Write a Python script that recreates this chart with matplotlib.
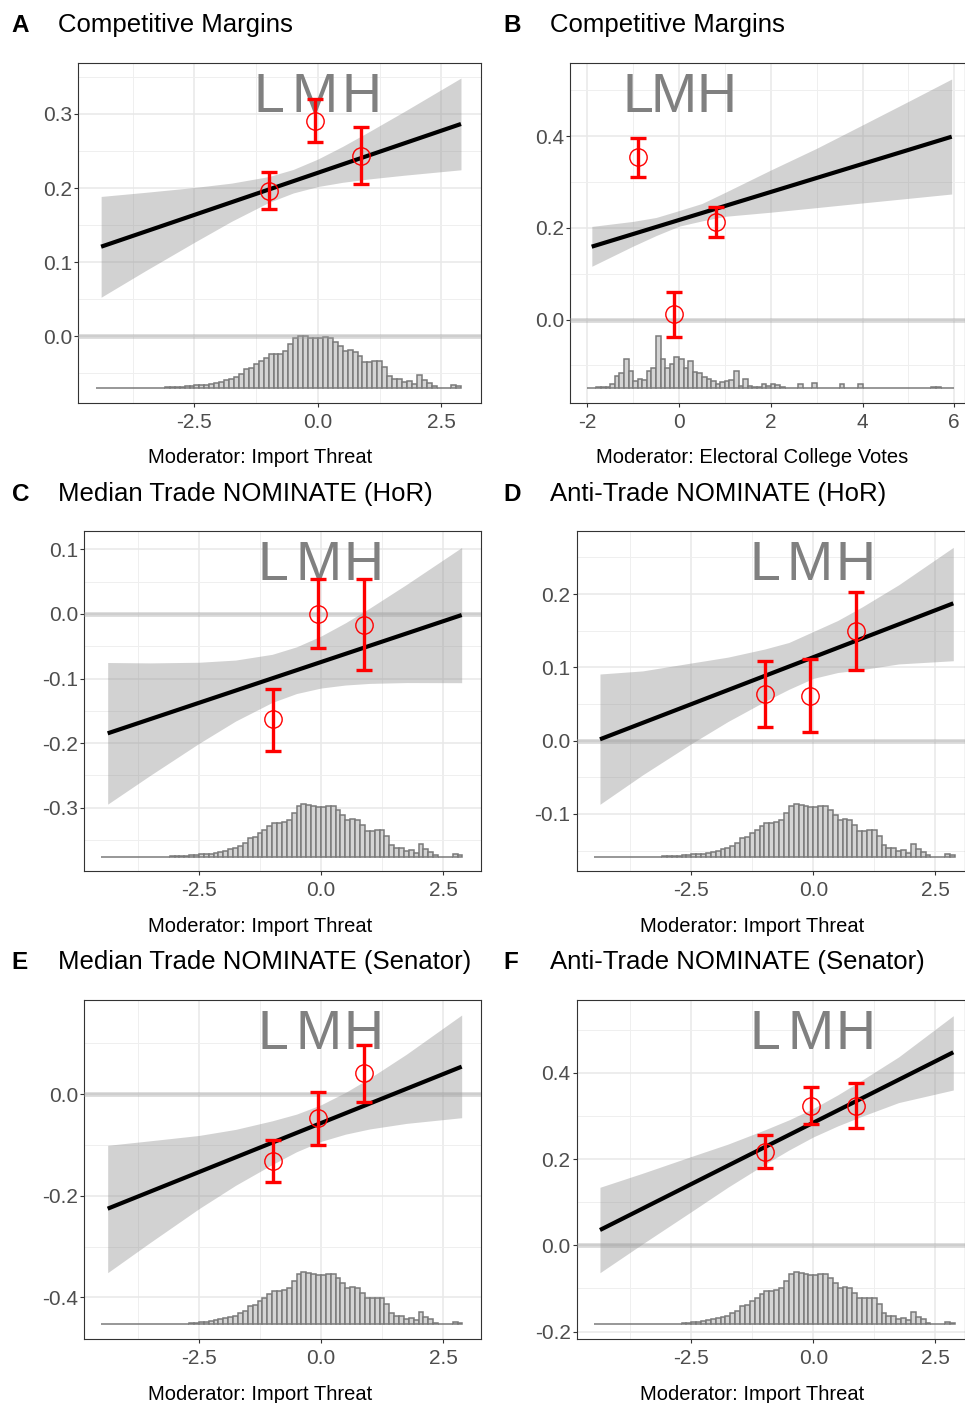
import numpy as np
import matplotlib
matplotlib.use("Agg")
import matplotlib.pyplot as plt
import matplotlib.transforms as mtransforms
from matplotlib.ticker import MultipleLocator, FormatStrFormatter

plt.rcParams['font.family'] = ['Liberation Sans', 'DejaVu Sans']
plt.rcParams['axes.unicode_minus'] = False

FIG_W, FIG_H = 965, 1403

# ---- moderator histograms (bar heights, arbitrary units)
IMPORT_BIN_START, ELECT_BIN_START, BIN_W = -4.5, -2.0, 0.1
import_hist = [0, 0, 0, 0, 0, 0, 0, 0, 0, 0, 0, 0, 0, 0,
               1, 1, 1, 2, 4, 5, 7, 8, 9, 12,
               15, 18, 22, 25, 33, 40, 55, 58, 70, 80,
               90, 100, 100, 102, 110, 130, 150, 156, 155, 150,
               148, 148, 152, 150, 138, 125, 110, 112, 108, 95,
               78, 78, 80, 80, 62, 35, 25, 25, 17, 20,
               12, 38, 22, 15, 5, 0, 0, 0, 8, 4]
elect_hist = [0, 0, 2, 3, 3, 12, 35, 45, 85, 50,
              20, 25, 22, 50, 60, 155, 85, 60, 70, 92,
              85, 60, 80, 48, 45, 32, 25, 20, 12, 18,
              20, 22, 50, 5, 25, 5, 2, 2, 12, 5,
              10, 8, 2, 0, 0, 0, 12, 0, 0, 15,
              0, 0, 0, 0, 0, 12, 0, 0, 0, 10,
              0, 0, 0, 0, 0, 0, 0, 0, 0, 0,
              0, 0, 0, 0, 0, 1, 1, 0, 0, 0]

# ---- panel A: Competitive Margins x Import Threat
A_pt_x = [-0.99, -0.06, 0.88]
A_pt_y = [0.196, 0.291, 0.243]
A_pt_lo = [0.172, 0.262, 0.205]
A_pt_hi = [0.221, 0.320, 0.283]
A_line_x = [-4.39, 2.895]
A_line_y = [0.1207, 0.2865]
A_rib_x = [-4.39, -3.5, -2.5, -1.75, -1.0, -0.5, 0.0, 0.5, 1.0, 1.75, 2.895]
A_rib_lo = [0.0524, 0.0879, 0.1267, 0.1550, 0.1804, 0.1933, 0.2020, 0.2077, 0.2120, 0.2173, 0.2246]
A_rib_hi = [0.1886, 0.1941, 0.2007, 0.2066, 0.2154, 0.2251, 0.2392, 0.2563, 0.2748, 0.3035, 0.3486]
A_hist_band = [-0.0699, 0.0004]

# ---- panel B: Competitive Margins x Electoral College Votes
B_pt_x = [-0.887, -0.109, 0.807]
B_pt_y = [0.354, 0.012, 0.213]
B_pt_lo = [0.3115, -0.0374, 0.1807]
B_pt_hi = [0.3965, 0.0607, 0.2446]
B_line_x = [-1.903, 5.944]
B_line_y = [0.1588, 0.3987]
B_rib_x = [-1.9, -1.0, -0.5, 0.0, 0.5, 1.0, 2.0, 3.0, 4.0, 5.0, 5.944]
B_rib_lo = [0.1161, 0.1601, 0.1830, 0.2035, 0.2150, 0.2250, 0.2340, 0.2440, 0.2542, 0.2642, 0.2737]
B_rib_hi = [0.2030, 0.2140, 0.2225, 0.2375, 0.2530, 0.2770, 0.3260, 0.3734, 0.4244, 0.4756, 0.5245]
B_hist_band = [-0.1487, -0.0353]

# ---- panel C: Median Trade NOMINATE (HoR)
C_pt_x = [-0.977, -0.055, 0.881]
C_pt_y = [-0.1633, 0.0, -0.0171]
C_pt_lo = [-0.2124, -0.0532, -0.0868]
C_pt_hi = [-0.1163, 0.0538, 0.0538]
C_line_x = [-4.371, 2.883]
C_line_y = [-0.1850, -0.0016]
C_rib_x = [-4.371, -3.5, -2.5, -1.75, -1.0, -0.5, 0.0, 0.5, 1.0, 1.75, 2.883]
C_rib_lo = [-0.2948, -0.2502, -0.2006, -0.1660, -0.1371, -0.1233, -0.1148, -0.1101, -0.1076, -0.1063, -0.1065]
C_rib_hi = [-0.0752, -0.0758, -0.0748, -0.0714, -0.0625, -0.0509, -0.0342, -0.0137, 0.0092, 0.0457, 0.1031]
C_hist_band = [-0.3763, -0.2950]

# ---- panel D: Anti-Trade NOMINATE (HoR)
D_pt_x = [-0.99, -0.068, 0.869]
D_pt_y = [0.0633, 0.0614, 0.1501]
D_pt_lo = [0.0183, 0.0115, 0.0965]
D_pt_hi = [0.1087, 0.1115, 0.2033]
D_line_x = [-4.371, 2.869]
D_line_y = [0.0019, 0.1874]
D_rib_x = [-4.371, -3.5, -2.5, -1.75, -1.0, -0.5, 0.0, 0.5, 1.0, 1.75, 2.869]
D_rib_lo = [-0.0868, -0.0468, -0.0041, 0.0261, 0.0533, 0.0701, 0.0850, 0.0930, 0.0970, 0.1047, 0.1091]
D_rib_hi = [0.0910, 0.0952, 0.1060, 0.1140, 0.1250, 0.1340, 0.1490, 0.1640, 0.1825, 0.2127, 0.2638]
D_hist_band = [-0.1583, -0.0868]

# ---- panel E: Median Trade NOMINATE (Senator)
E_pt_x = [-0.977, -0.055, 0.881]
E_pt_y = [-0.1318, -0.0479, 0.0407]
E_pt_lo = [-0.1737, -0.1003, -0.0164]
E_pt_hi = [-0.0905, 0.0046, 0.0964]
E_line_x = [-4.371, 2.883]
E_line_y = [-0.2255, 0.0538]
E_rib_x = [-4.371, -3.5, -2.5, -1.75, -1.0, -0.5, 0.0, 0.5, 1.0, 1.75, 2.883]
E_rib_lo = [-0.3514, -0.2920, -0.2255, -0.1796, -0.1387, -0.1135, -0.0932, -0.0790, -0.0687, -0.0578, -0.0466]
E_rib_hi = [-0.1009, -0.0920, -0.0815, -0.0696, -0.0527, -0.0395, -0.0212, 0.0030, 0.0313, 0.0782, 0.1554]
E_hist_band = [-0.4529, -0.3506]

# ---- panel F: Anti-Trade NOMINATE (Senator)
F_pt_x = [-0.984, -0.054, 0.875]
F_pt_y = [0.2172, 0.3239, 0.3239]
F_pt_lo = [0.1794, 0.2807, 0.2715]
F_pt_hi = [0.2559, 0.3680, 0.3773]
F_line_x = [-4.371, 2.869]
F_line_y = [0.0355, 0.4478]
F_rib_x = [-4.371, -3.5, -2.5, -1.75, -1.0, -0.5, 0.0, 0.5, 1.0, 1.75, 2.869]
F_rib_lo = [-0.0636, 0.0031, 0.0780, 0.1347, 0.1875, 0.2209, 0.2514, 0.2769, 0.2994, 0.3311, 0.3603]
F_rib_hi = [0.1346, 0.1671, 0.2060, 0.2347, 0.2675, 0.2909, 0.3174, 0.3489, 0.3834, 0.4371, 0.5327]
F_hist_band = [-0.1833, -0.0626]

LETTERS = ['L', 'M', 'H']
IMPORT_LABEL = 'Moderator: Import Threat'
ELECT_LABEL = 'Moderator: Electoral College Votes'

# axes box in px (left, right, top, bottom); col 0 = left column, 1 = right
panels = [
    dict(tag='A', title='Competitive Margins', xlab=IMPORT_LABEL, col=0,
         pt=(A_pt_x, A_pt_y, A_pt_lo, A_pt_hi), line=(A_line_x, A_line_y),
         rib=(A_rib_x, A_rib_lo, A_rib_hi), hist=(import_hist, IMPORT_BIN_START), band=A_hist_band,
         box=(78, 481, 63, 403), xlim=(-4.858, 3.300), ylim=(-0.0905, 0.3689),
         xmaj=2.5, ymaj=0.1, xfmt='%.1f', yfmt='%.1f', xlab_y=463),
    dict(tag='B', title='Competitive Margins', xlab=ELECT_LABEL, col=1,
         pt=(B_pt_x, B_pt_y, B_pt_lo, B_pt_hi), line=(B_line_x, B_line_y),
         rib=(B_rib_x, B_rib_lo, B_rib_hi), hist=(elect_hist, ELECT_BIN_START), band=B_hist_band,
         box=(570, 965, 63, 403), xlim=(-2.376, 6.234), ylim=(-0.1821, 0.5594),
         xmaj=2, ymaj=0.2, xfmt='%d', yfmt='%.1f', xlab_y=463),
    dict(tag='C', title='Median Trade NOMINATE (HoR)', xlab=IMPORT_LABEL, col=0,
         pt=(C_pt_x, C_pt_y, C_pt_lo, C_pt_hi), line=(C_line_x, C_line_y),
         rib=(C_rib_x, C_rib_lo, C_rib_hi), hist=(import_hist, IMPORT_BIN_START), band=C_hist_band,
         box=(84.3, 480.7, 531.3, 871), xlim=(-4.850, 3.273), ylim=(-0.3984, 0.1282),
         xmaj=2.5, ymaj=0.1, xfmt='%.1f', yfmt='%.1f', xlab_y=932),
    dict(tag='D', title='Anti-Trade NOMINATE (HoR)', xlab=IMPORT_LABEL, col=1,
         pt=(D_pt_x, D_pt_y, D_pt_lo, D_pt_hi), line=(D_line_x, D_line_y),
         rib=(D_rib_x, D_rib_lo, D_rib_hi), hist=(import_hist, IMPORT_BIN_START), band=D_hist_band,
         box=(576.7, 965, 531.3, 871), xlim=(-4.848, 3.109), ylim=(-0.1778, 0.2857),
         xmaj=2.5, ymaj=0.1, xfmt='%.1f', yfmt='%.1f', xlab_y=932),
    dict(tag='E', title='Median Trade NOMINATE (Senator)', xlab=IMPORT_LABEL, col=0,
         pt=(E_pt_x, E_pt_y, E_pt_lo, E_pt_hi), line=(E_line_x, E_line_y),
         rib=(E_rib_x, E_rib_lo, E_rib_hi), hist=(import_hist, IMPORT_BIN_START), band=E_hist_band,
         box=(84.3, 480.7, 1000, 1339), xlim=(-4.850, 3.273), ylim=(-0.4818, 0.1849),
         xmaj=2.5, ymaj=0.2, xfmt='%.1f', yfmt='%.1f', xlab_y=1400),
    dict(tag='F', title='Anti-Trade NOMINATE (Senator)', xlab=IMPORT_LABEL, col=1,
         pt=(F_pt_x, F_pt_y, F_pt_lo, F_pt_hi), line=(F_line_x, F_line_y),
         rib=(F_rib_x, F_rib_lo, F_rib_hi), hist=(import_hist, IMPORT_BIN_START), band=F_hist_band,
         box=(576.7, 965, 1000, 1339), xlim=(-4.848, 3.109), ylim=(-0.2174, 0.5691),
         xmaj=2.5, ymaj=0.2, xfmt='%.1f', yfmt='%.1f', xlab_y=1400),
]

TAG_X = [11.7, 503.3]
TITLE_X = [58.3, 549.5]
XLAB_X = [260.5, 752]

fig = plt.figure(figsize=(FIG_W / 100, FIG_H / 100), dpi=100)


def fx(px):
    return px / FIG_W


def fy(py):
    return 1 - py / FIG_H


for p in panels:
    l, r, t, b = p['box']
    ax = fig.add_axes([fx(l), fy(b), fx(r - l), (b - t) / FIG_H])
    ax.set_xlim(*p['xlim'])
    ax.set_ylim(*p['ylim'])

    # theme_bw-ish grid
    ax.xaxis.set_major_locator(MultipleLocator(p['xmaj']))
    ax.xaxis.set_minor_locator(MultipleLocator(p['xmaj'] / 2))
    ax.yaxis.set_major_locator(MultipleLocator(p['ymaj']))
    ax.yaxis.set_minor_locator(MultipleLocator(p['ymaj'] / 2))
    ax.xaxis.set_major_formatter(FormatStrFormatter(p['xfmt']))
    ax.yaxis.set_major_formatter(FormatStrFormatter(p['yfmt']))
    ax.grid(True, which='major', color='#e8e8e8', lw=1.1, zorder=0)
    ax.grid(True, which='minor', color='#efefef', lw=0.7, zorder=0)
    ax.set_axisbelow(True)
    ax.tick_params(which='major', direction='out', length=3.2, width=0.8, color='#333333',
                   labelcolor='#4d4d4d', labelsize=15)
    ax.tick_params(axis='x', which='major', pad=4.0)
    ax.tick_params(axis='y', which='major', pad=1.2)
    ax.tick_params(which='minor', length=0)
    for sp in ax.spines.values():
        sp.set_color('#333333')
        sp.set_linewidth(0.8)

    # histogram of moderator at the bottom
    counts, start = p['hist']
    counts = np.asarray(counts, dtype=float)
    base, top = p['band']
    edges = start + BIN_W * np.arange(len(counts))
    ax.bar(edges, counts / counts.max() * (top - base), width=BIN_W, bottom=base, align='edge',
           color='#d4d4d4', edgecolor='#7a7a7a', linewidth=1.1, zorder=2)

    # L M H labels at the bin positions
    trans = mtransforms.blended_transform_factory(ax.transData, ax.transAxes)
    for xv, ch in zip(p['pt'][0], LETTERS):
        ax.text(xv, 1 - 49 / (b - t), ch, transform=trans, ha='center', va='baseline',
                fontsize=40, color='#808080', zorder=3)

    # confidence ribbon + zero line + linear fit
    rx, rlo, rhi = p['rib']
    ax.fill_between(rx, rlo, rhi, color='#808080', alpha=0.35, lw=0, zorder=3)
    ax.axhline(0, color='#a0a0a0', alpha=0.4, lw=3.4, zorder=4)
    ax.plot(p['line'][0], p['line'][1], color='black', lw=3.0, solid_capstyle='butt', zorder=5)

    # binned estimates
    px_, py_, plo, phi = p['pt']
    py_ = np.asarray(py_)
    ax.errorbar(px_, py_, yerr=[py_ - np.asarray(plo), np.asarray(phi) - py_], fmt='none',
                ecolor='red', elinewidth=2.4, capsize=6, capthick=2.4, zorder=6)
    ax.plot(px_, py_, 'o', mfc='none', mec='red', ms=12.5, mew=1.0, zorder=7)

    # titles and axis labels
    row_base = t - 30.7
    c = p['col']
    fig.text(fx(TAG_X[c]), fy(row_base), p['tag'],
             fontsize=17.5, fontweight='bold', va='baseline', ha='left')
    fig.text(fx(TITLE_X[c]), fy(row_base), p['title'],
             fontsize=18.5, va='baseline', ha='left')
    fig.text(fx(XLAB_X[c]), fy(p['xlab_y']), p['xlab'], fontsize=14.5,
             va='baseline', ha='center')

fig.savefig('out.png', dpi=100)
